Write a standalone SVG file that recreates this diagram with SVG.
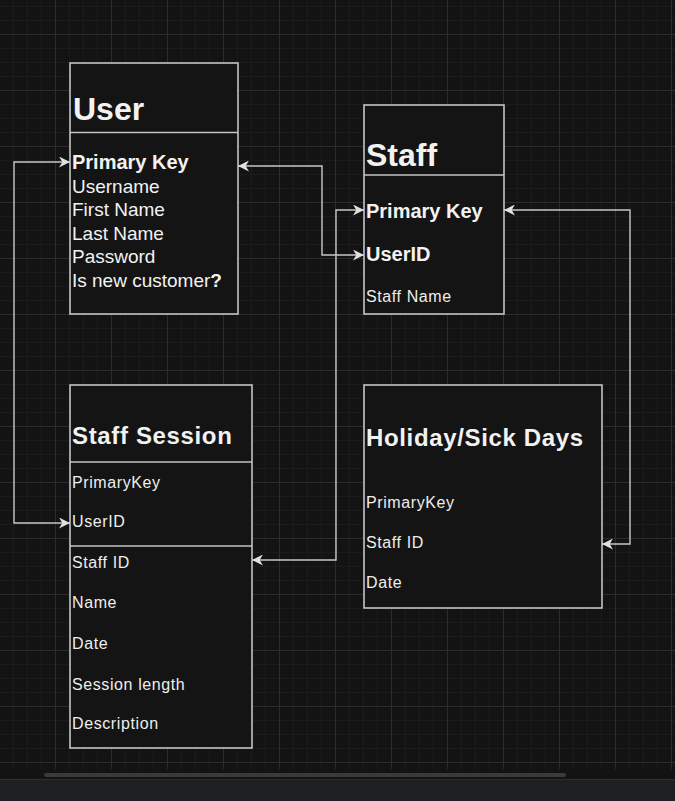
<svg xmlns="http://www.w3.org/2000/svg" width="675" height="801" viewBox="0 0 675 801">
<style>
.box{fill:#141414;stroke:#c4c4c4;stroke-width:1.6}
.div{stroke:#c4c4c4;stroke-width:1.6}
.title{font-family:"Liberation Sans",Arial,sans-serif;font-weight:bold;fill:#f2f2f2}
.t32{font-size:32px}
.t24{font-size:24px;letter-spacing:0.65px}
.fb{font-family:"Liberation Sans",Arial,sans-serif;font-weight:bold;font-size:20px;fill:#f2f2f2}
.fn{font-family:"Liberation Sans",Arial,sans-serif;font-size:19px;fill:#f2f2f2}
.fs{font-family:"Liberation Sans",Arial,sans-serif;font-size:16px;letter-spacing:0.6px;fill:#eeeeee}
.conn{fill:none;stroke:#c8c8c8;stroke-width:1.4;marker-start:url(#arr);marker-end:url(#arr)}
</style>
<defs>
<pattern id="minor" x="55" y="34" width="14" height="14" patternUnits="userSpaceOnUse">
<path d="M0.5,0 V14 M0,0.5 H14" stroke="#1b1b1b" stroke-width="1" fill="none"/>
</pattern>
<pattern id="major" x="55" y="34" width="56" height="56" patternUnits="userSpaceOnUse">
<path d="M0.5,0 V56 M0,0.5 H56" stroke="#2c2c2c" stroke-width="1" fill="none"/>
</pattern>
<marker id="arr" viewBox="0 0 10 10" refX="10" refY="5" markerWidth="11" markerHeight="11" markerUnits="userSpaceOnUse" orient="auto-start-reverse">
<path d="M0,0 L10,5 L0,10 L3,5 Z" fill="#e0e0e0"/>
</marker>
</defs>
<rect x="0" y="0" width="675" height="801" fill="#131313"/>
<rect x="0" y="0" width="675" height="769" fill="url(#minor)"/>
<rect x="0" y="0" width="675" height="769" fill="url(#major)"/>
<rect x="44" y="773" width="522" height="4" rx="2" fill="#3a3a3a"/>
<rect x="0" y="779" width="675" height="22" fill="#1e1f22"/>
<line x1="0" y1="779.5" x2="675" y2="779.5" stroke="#2e2e2e"/>

<g id="user">
<rect class="box" x="70" y="63" width="168" height="251"/>
<line class="div" x1="70" y1="132.5" x2="238" y2="132.5"/>
<text class="title t32" x="73" y="120">User</text>
<text class="fb" x="72" y="169">Primary Key</text>
<text class="fn" x="72" y="192.6">Username</text>
<text class="fn" x="72" y="216.2">First Name</text>
<text class="fn" x="72" y="239.8">Last Name</text>
<text class="fn" x="72" y="263.4">Password</text>
<text class="fn" x="72" y="287">Is new customer<tspan font-weight="bold">?</tspan></text>
</g>

<g id="staff">
<rect class="box" x="364" y="105" width="140" height="209"/>
<line class="div" x1="364" y1="175" x2="504" y2="175"/>
<text class="title t32" x="366" y="166">Staff</text>
<text class="fb" x="366" y="218">Primary Key</text>
<text class="fb" x="366" y="261">UserID</text>
<text class="fs" x="366" y="302">Staff Name</text>
</g>

<g id="staff-session">
<rect class="box" x="70" y="385" width="182" height="363"/>
<line class="div" x1="70" y1="462" x2="252" y2="462"/>
<line class="div" x1="70" y1="546" x2="252" y2="546"/>
<text class="title t24" x="72" y="444">Staff Session</text>
<text class="fs" x="72" y="488">PrimaryKey</text>
<text class="fs" x="72" y="527">UserID</text>
<text class="fs" x="72" y="568">Staff ID</text>
<text class="fs" x="72" y="608">Name</text>
<text class="fs" x="72" y="649">Date</text>
<text class="fs" x="72" y="690">Session length</text>
<text class="fs" x="72" y="729">Description</text>
</g>

<g id="holiday">
<rect class="box" x="364" y="385" width="238" height="223"/>
<text class="title t24" x="366" y="446">Holiday/Sick Days</text>
<text class="fs" x="366" y="508">PrimaryKey</text>
<text class="fs" x="366" y="548">Staff ID</text>
<text class="fs" x="366" y="588">Date</text>
</g>

<g id="connectors">
<path class="conn" d="M70,162 L14,162 L14,523 L70,523"/>
<path class="conn" d="M238,166 L322,166 L322,255 L364,255"/>
<path class="conn" d="M364,210 L336,210 L336,560 L252,560"/>
<path class="conn" d="M504,210 L630,210 L630,544 L602,544"/>
</g>
</svg>
